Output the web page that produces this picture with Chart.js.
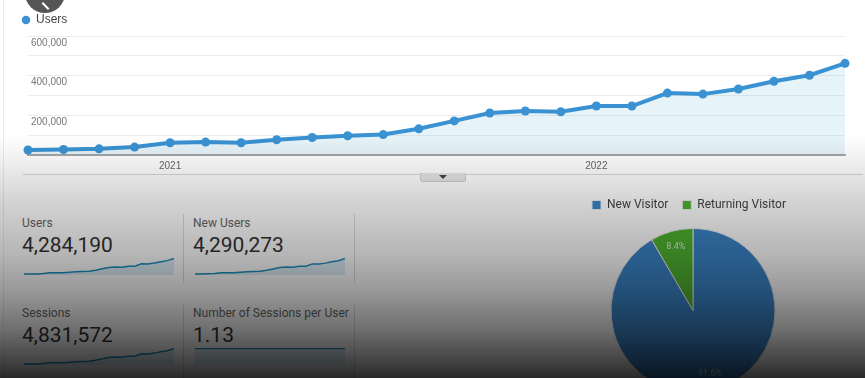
<!DOCTYPE html>
<html>
<head>
<meta charset="utf-8">
<title>Audience Overview</title>
<script src="https://cdn.jsdelivr.net/npm/chart.js@4.4.1/dist/chart.umd.min.js"></script>
<style>
    html, body {
        margin: 0;
        padding: 0;
        width: 865px;
        height: 378px;
        overflow: hidden;
        background: #ffffff;
    }
    #page {
        position: relative;
        width: 865px;
        height: 378px;
        overflow: hidden;
        font-family: Roboto, "Liberation Sans", sans-serif;
    }
    .edge {
        position: absolute;
        left: 3px;
        top: 0;
        width: 1px;
        height: 378px;
        background: #ececec;
    }
    #main-wrap {
        position: absolute;
        left: 0;
        top: 0;
        width: 865px;
        height: 180px;
    }
    .axis-rule {
        position: absolute;
        left: 23px;
        top: 174px;
        width: 840px;
        height: 1px;
        background: #d6d6d6;
    }
    .collapse-tab {
        position: absolute;
        left: 420px;
        top: 173px;
        width: 44px;
        height: 8px;
        background: #e6e6e6;
        border: 1px solid #cdcdcd;
        border-top: none;
        border-radius: 0 0 3px 3px;
    }
    .collapse-tab .caret {
        position: absolute;
        left: 18px;
        top: 2px;
        width: 0;
        height: 0;
        border-left: 4px solid transparent;
        border-right: 4px solid transparent;
        border-top: 4px solid #444;
    }
    .card {
        position: absolute;
        width: 160px;
        height: 70px;
    }
    .card .title {
        position: absolute;
        left: 0;
        top: 0;
        font-size: 12px;
        line-height: 14px;
        color: #666;
        white-space: nowrap;
    }
    .card .value {
        position: absolute;
        left: 0;
        top: 17px;
        font-size: 21px;
        line-height: 24px;
        color: #333;
        white-space: nowrap;
    }
    .card .spark {
        position: absolute;
        left: 2px;
        top: 42px;
        width: 150px;
        height: 17px;
    }
    .divider {
        position: absolute;
        width: 1px;
        background: #dcdcdc;
    }
    #pie-wrap {
        position: absolute;
        left: 578px;
        top: 185px;
        width: 230px;
        height: 216px;
    }
    .shade {
        position: absolute;
        left: 0;
        top: 0;
        width: 865px;
        height: 378px;
        pointer-events: none;
        background: linear-gradient(to bottom,
            rgba(0,0,0,0) 0px,
            rgba(0,0,0,0) 135px,
            rgba(0,0,0,0.06) 160px,
            rgba(0,0,0,0.17) 200px,
            rgba(0,0,0,0.29) 255px,
            rgba(0,0,0,0.40) 290px,
            rgba(0,0,0,0.57) 330px,
            rgba(0,0,0,0.76) 365px,
            rgba(0,0,0,0.84) 378px);
    }
    .back-btn {
        position: absolute;
        left: 25px;
        top: -27px;
        width: 40px;
        height: 40px;
        border-radius: 50%;
        background: rgba(70,70,70,0.92);
    }
    .back-btn::after {
        content: "";
        position: absolute;
        left: 16px;
        top: 32px;
        width: 9px;
        height: 2px;
        background: #fff;
        transform: rotate(45deg);
    }
</style>
</head>
<body>
<div id="page">
    <div class="edge"></div>
    <div id="main-wrap"><canvas id="users-chart"></canvas></div>
    <div class="axis-rule"></div>
    <div class="collapse-tab"><span class="caret"></span></div>
    <div id="cards"></div>
    <div id="pie-wrap"><canvas id="visitor-pie"></canvas></div>
    <div class="shade"></div>
    <div class="back-btn"></div>
</div>

<script>
// Monthly points, Sep 2020 .. Aug 2022
const months = [
    '2020-09', '2020-10', '2020-11', '2020-12',
    '2021-01', '2021-02', '2021-03', '2021-04', '2021-05', '2021-06',
    '2021-07', '2021-08', '2021-09', '2021-10', '2021-11', '2021-12',
    '2022-01', '2022-02', '2022-03', '2022-04', '2022-05', '2022-06',
    '2022-07', '2022-08'
];

const users = [
    25000, 28000, 31000, 40000,
    62000, 65000, 62000, 77000, 88000, 97000,
    103000, 132000, 172000, 212000, 222000, 218000,
    247000, 247000, 312000, 307000, 333000, 372000,
    402000, 462000
];

const newUsers = [
    26000, 28000, 32000, 40000,
    62000, 66000, 62000, 77000, 88000, 97000,
    104000, 132000, 171000, 212000, 221000, 218000,
    248000, 247000, 312000, 308000, 333000, 373000,
    402000, 463000
];

const sessions = [
    29000, 32000, 35000, 45000,
    70000, 73000, 70000, 87000, 99000, 110000,
    116000, 149000, 194000, 240000, 251000, 246000,
    279000, 279000, 353000, 347000, 376000, 420000,
    454000, 522000
];

const sessionsPerUser = [
    1.13, 1.13, 1.13, 1.13, 1.13, 1.13, 1.13, 1.13,
    1.13, 1.13, 1.13, 1.13, 1.13, 1.13, 1.13, 1.13,
    1.13, 1.13, 1.13, 1.13, 1.13, 1.13, 1.13, 1.13
];

// y axis: gridline every 100k, label every 200k
const yMax = 600000;
const yStep = 100000;
const yLabelStep = 200000;

// Scorecards
const cardTitles = ['Users', 'New Users', 'Sessions', 'Number of Sessions per User'];
const cardValues = ['4,284,190', '4,290,273', '4,831,572', '1.13'];
const cardSeries = [users, newUsers, sessions, sessionsPerUser];

// Visitor pie
const visitorTypes = ['New Visitor', 'Returning Visitor'];
const visitorShare = [91.6, 8.4];

const LINE_BLUE = '#3a92d2';
const PIE_BLUE = '#3b86c9';
const PIE_GREEN = '#50b432';

const Dashboard = {
    charts: [],

    init() {
        Chart.defaults.animation = false;
        Chart.defaults.responsive = true;
        Chart.defaults.maintainAspectRatio = false;
        Chart.defaults.plugins.tooltip.enabled = false;

        this.drawUsersChart();
        this.buildCards();
        this.drawVisitorPie();
    },

    /**
     * Big users-over-time line with area fill
     */
    drawUsersChart() {
        const ctx = document.getElementById('users-chart').getContext('2d');

        this.charts.push(new Chart(ctx, {
            type: 'line',
            data: {
                labels: months,
                datasets: [{
                    label: 'Users',
                    data: users,
                    borderColor: LINE_BLUE,
                    backgroundColor: 'rgba(5, 141, 199, 0.1)',
                    fill: 'origin',
                    borderWidth: 4,
                    tension: 0,
                    pointRadius: 4.5,
                    pointBorderWidth: 0,
                    pointBackgroundColor: LINE_BLUE,
                    clip: false
                }]
            },
            options: {
                layout: {
                    padding: { left: 12, right: 20, top: 4, bottom: 0 }
                },
                plugins: {
                    legend: {
                        position: 'top',
                        align: 'start',
                        labels: {
                            usePointStyle: true,
                            pointStyle: 'circle',
                            boxWidth: 8,
                            boxHeight: 6,
                            padding: 10,
                            color: '#444',
                            font: { family: '"Liberation Sans", Arial, sans-serif', size: 12 }
                        }
                    }
                },
                scales: {
                    x: {
                        grid: { display: false, drawTicks: false },
                        border: { display: true, color: '#a9a9a9', width: 2 },
                        ticks: {
                            autoSkip: false,
                            maxRotation: 0,
                            padding: 5,
                            color: '#666',
                            font: { family: '"Liberation Sans", Arial, sans-serif', size: 10 },
                            callback: (value, index) => {
                                const m = months[index];
                                return m.endsWith('-01') ? m.slice(0, 4) : '';
                            }
                        },
                        afterFit: (scale) => { scale.height = 25; }
                    },
                    y: {
                        min: 0,
                        max: yMax,
                        grid: { color: '#ececec', drawTicks: false },
                        border: { display: false },
                        ticks: {
                            stepSize: yStep,
                            mirror: true,
                            padding: 3,
                            labelOffset: 7,
                            color: '#777',
                            font: { family: '"Liberation Sans", Arial, sans-serif', size: 10 },
                            callback: (value) => (value > 0 && value % yLabelStep === 0)
                                ? value.toLocaleString('en-US') : ''
                        },
                        afterFit: (scale) => { scale.width = 16; }
                    }
                }
            }
        }));
    },

    /**
     * Four scorecards, each with a tiny sparkline
     */
    buildCards() {
        const holder = document.getElementById('cards');
        const cols = [22, 193];
        const rows = [216, 306];

        cardTitles.forEach((title, i) => {
            const card = document.createElement('div');
            card.className = 'card';
            card.style.left = cols[i % 2] + 'px';
            card.style.top = rows[Math.floor(i / 2)] + 'px';
            card.innerHTML =
                '<div class="title">' + title + '</div>' +
                '<div class="value">' + cardValues[i] + '</div>' +
                '<div class="spark"><canvas></canvas></div>';
            holder.appendChild(card);

            this.drawSpark(card.querySelector('canvas'), cardSeries[i]);
        });

        // thin separators between the cards
        [183, 354].forEach(x => {
            [[214, 69], [305, 73]].forEach(([top, h]) => {
                const d = document.createElement('div');
                d.className = 'divider';
                d.style.left = x + 'px';
                d.style.top = top + 'px';
                d.style.height = h + 'px';
                holder.appendChild(d);
            });
        });
    },

    drawSpark(canvas, series) {
        const peak = Math.max(...series);

        this.charts.push(new Chart(canvas.getContext('2d'), {
            type: 'line',
            data: {
                labels: months,
                datasets: [{
                    data: series,
                    borderColor: '#1f8fc0',
                    backgroundColor: 'rgba(5, 141, 199, 0.14)',
                    fill: 'origin',
                    borderWidth: 1.5,
                    tension: 0,
                    pointRadius: 0,
                    clip: false
                }]
            },
            options: {
                layout: { padding: 0 },
                plugins: { legend: { display: false } },
                scales: {
                    x: { display: false },
                    y: { display: false, min: 0, max: peak * 1.03 }
                }
            }
        }));
    },

    /**
     * New vs returning visitor pie
     */
    drawVisitorPie() {
        const ctx = document.getElementById('visitor-pie').getContext('2d');

        // percentage text placed near the rim of each slice
        const sliceLabels = {
            id: 'sliceLabels',
            afterDatasetsDraw(chart) {
                const c = chart.ctx;
                const meta = chart.getDatasetMeta(0);
                c.save();
                c.font = '9px Roboto, sans-serif';
                c.fillStyle = 'rgba(255, 255, 255, 0.8)';
                c.textAlign = 'center';
                c.textBaseline = 'middle';
                meta.data.forEach((arc, i) => {
                    const p = arc.getProps(['x', 'y', 'startAngle', 'endAngle', 'outerRadius'], true);
                    const mid = (p.startAngle + p.endAngle) / 2;
                    const r = p.outerRadius * 0.8;
                    c.fillText(visitorShare[i].toFixed(1) + '%', p.x + Math.cos(mid) * r, p.y + Math.sin(mid) * r);
                });
                c.restore();
            }
        };

        this.charts.push(new Chart(ctx, {
            type: 'pie',
            data: {
                labels: visitorTypes,
                datasets: [{
                    data: visitorShare,
                    backgroundColor: [PIE_BLUE, PIE_GREEN],
                    borderColor: '#eeeeee',
                    borderWidth: 1,
                    radius: 82
                }]
            },
            options: {
                layout: { padding: { bottom: 1 } },
                plugins: {
                    legend: {
                        position: 'top',
                        align: 'start',
                        labels: {
                            boxWidth: 9,
                            boxHeight: 9,
                            padding: 14,
                            color: '#444',
                            font: { family: 'Roboto, sans-serif', size: 12 }
                        }
                    }
                }
            },
            plugins: [sliceLabels]
        }));
    }
};

Dashboard.init();
</script>
</body>
</html>
